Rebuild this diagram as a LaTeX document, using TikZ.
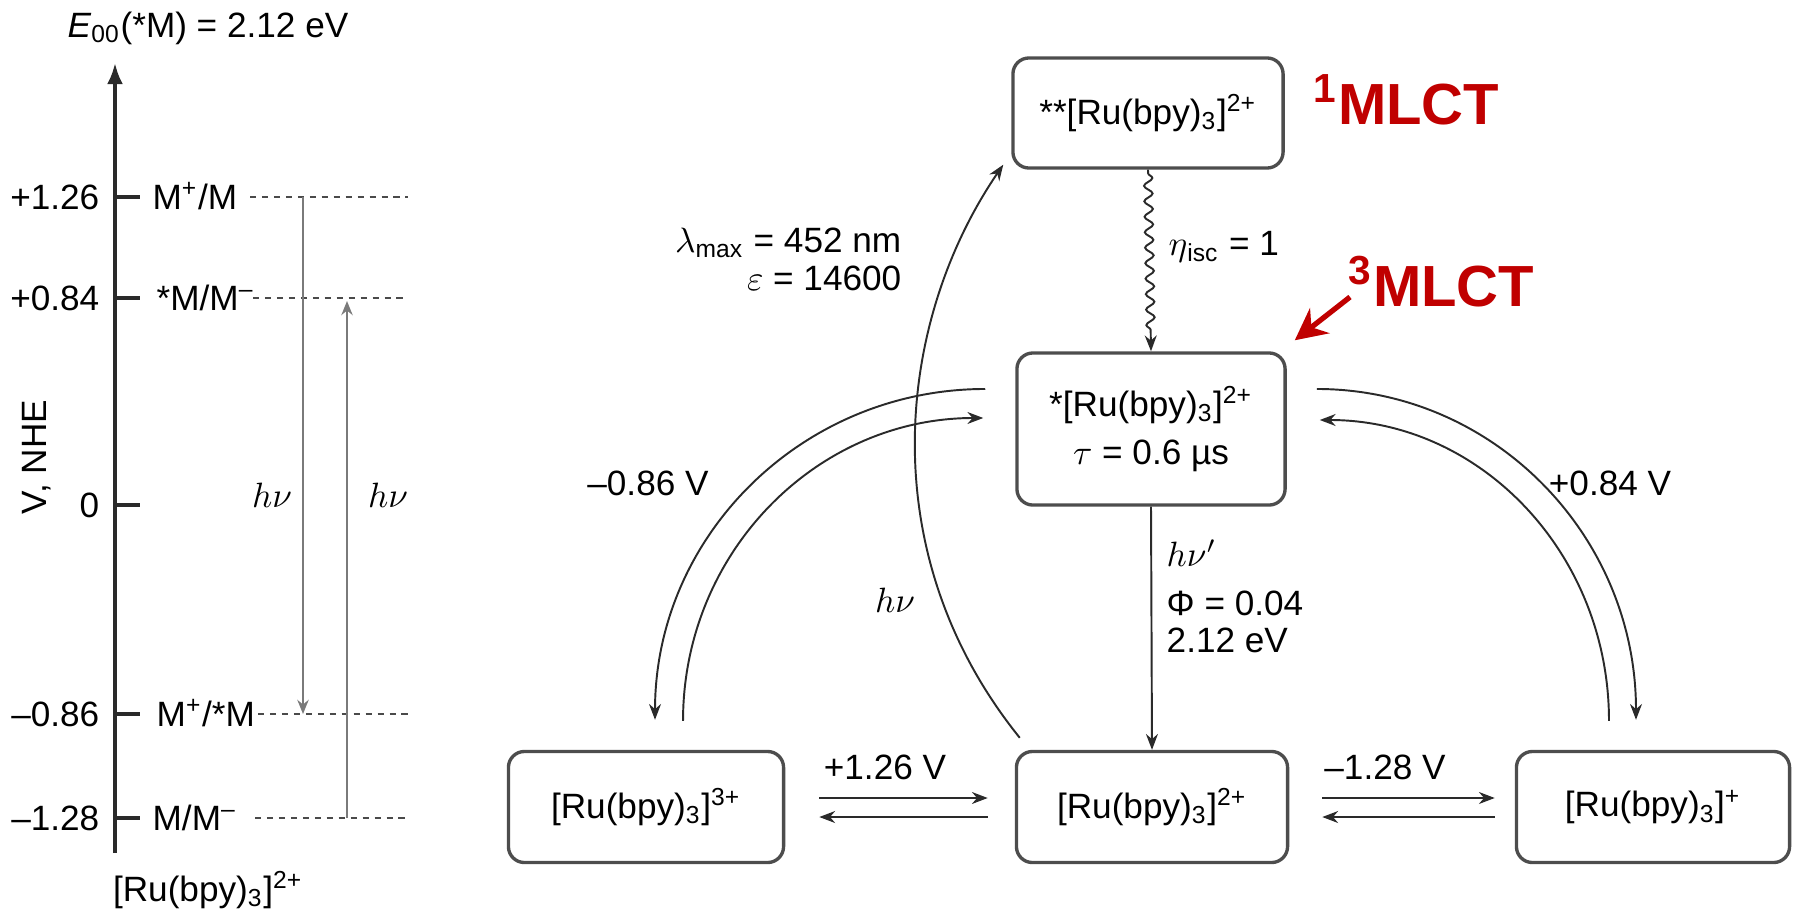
\documentclass[tikz,border=0pt]{standalone}
\usepackage{fontspec}
\setmainfont{Liberation Sans}
\usetikzlibrary{arrows.meta,decorations.pathmorphing,calc}
\definecolor{mlct}{HTML}{C00000}
\definecolor{boxc}{HTML}{4D4D4D}
\definecolor{lnc}{HTML}{2A2A2A}
\definecolor{lvgray}{HTML}{7A7A7A}
\newcommand{\fsz}{\fontsize{10}{12}\selectfont}
\newcommand{\ru}{[Ru(bpy)\textsubscript{3}]}
\begin{document}
\begin{tikzpicture}[x=0.01cm,y=-0.01cm, font=\fsz,
  box/.style={draw=boxc, line width=0.95pt, rounded corners=0.16cm, minimum width=2.72cm, minimum height=1.11cm, align=center, inner sep=0pt},
  conn/.style={draw=lnc, line width=0.55pt, -{Stealth[length=4.5pt,width=3.4pt]}},
  lvl/.style={draw=lnc!85, line width=0.65pt, dash pattern=on 1.8pt off 1.6pt},
  tickmark/.style={draw=lnc, line width=1pt},
  vert/.style={draw=lvgray, line width=0.7pt, -{Stealth[length=4pt,width=3.2pt]}},
  redtxt/.style={text=mlct, font=\fontsize{16.5}{20}\selectfont\bfseries, inner sep=0pt, anchor=west},
  lab/.style={inner sep=0pt},
]
\useasboundingbox (0,0) rectangle (1797,915);

% ---------- left energy diagram ----------
\node[lab] (title) at (208,28) {\textit{E}\textsubscript{00}(*M) = 2.12 eV};
\coordinate (axb) at (115,853);
\coordinate (axt) at (115,63);
\draw[draw=lnc, line width=1pt, -{Latex[length=6pt,width=4.5pt]}] (axb) -- (axt);
\foreach \y/\t/\n in {197/+1.26/a, 298/+0.84/b, 505/0/c, 714/–0.86/d, 818/–1.28/e} {
  \draw[tickmark] (115,\y) -- (140,\y);
  \node[lab, anchor=base east] (tk\n) at (100,\y+12) {\t};
}
\node[lab, rotate=90] (vnhe) at (37,457) {V, NHE};

\node[lab, anchor=base west] (l1) at (152,209) {M\textsuperscript{+}/M};
\node[lab, anchor=base west] (l2) at (156,310) {*M/M\textsuperscript{–}};
\node[lab, anchor=base west] (l3) at (156,726) {M\textsuperscript{+}/*M};
\node[lab, anchor=base west] (l4) at (152,830) {M/M\textsuperscript{–}};

\draw[lvl] (250,197) -- (408,197);
\draw[lvl] (253,298) -- (408,298);
\draw[lvl] (258,714) -- (408,714);
\draw[lvl] (255,818) -- (408,818);

\draw[vert] (303,197) -- (303,714);
\draw[vert] (347,818) -- (347,301);
\node[lab] (hn1) at (272,495) {$h\nu$};
\node[lab] (hn2) at (388,495) {$h\nu$};

\node[lab] (lbot) at (208,890) {\ru\textsuperscript{2+}};

% ---------- right scheme ----------
\node[box, minimum width=2.70cm, minimum height=1.10cm] (top) at (1148,113) {**\ru\textsuperscript{2+}};
\node[box, minimum width=2.68cm, minimum height=1.52cm] (mid) at (1151,429) {*\ru\textsuperscript{2+}\\[1.5pt]$\tau$ = 0.6 µs};
\node[box, minimum width=2.75cm] (b3) at (646,807) {\ru\textsuperscript{3+}};
\node[box, minimum width=2.71cm] (b2) at (1152,807) {\ru\textsuperscript{2+}};
\node[box, minimum width=2.73cm] (b1) at (1653,807) {\ru\textsuperscript{+}};

% intersystem crossing
\draw[conn, decorate, decoration={snake, amplitude=1.2pt, segment length=4.4pt, pre length=1pt, post length=4.5pt}] (top.south) -- (mid.north);
\node[lab, anchor=west] (eta) at (1168,247) {$\eta$\textsubscript{isc} = 1};

% emission
\draw[conn] (mid.south) -- (b2.north);
\node[lab, anchor=west] (hnup) at (1166,553) {$h\nu'$};
\node[lab, anchor=west] (phi) at (1166,603) {Φ = 0.04};
\node[lab, anchor=west] (ev) at (1166,640) {2.12 eV};

% excitation
\draw[conn] ([xshift=0.05cm,yshift=0.12cm]b2.north west) .. controls (870,552) and (897,320) .. ([xshift=-0.08cm,yshift=0.05cm]top.south west);
\node[lab] (hn3) at (895,600) {$h\nu$};
\node[lab, anchor=base east] (lam) at (902,252) {$\lambda$\textsubscript{max} = 452 nm};
\node[lab, anchor=base east] (eps) at (902,290) {$\varepsilon$ = 14600};

% left pair of curved arrows
\draw[conn] ([xshift=-0.30cm,yshift=0.40cm]mid.west) .. controls +(-183,0) and +(0,-184) .. ([xshift=0.09cm,yshift=0.30cm]b3.north);
\draw[conn] ([xshift=0.37cm,yshift=0.29cm]b3.north) .. controls +(0,-168) and +(-167,0) .. ([xshift=-0.32cm,yshift=0.11cm]mid.west);
\node[lab] (v086) at (648,483) {–0.86 V};

% right pair of curved arrows
\draw[conn] ([xshift=0.30cm,yshift=0.40cm]mid.east) .. controls +(177,0) and +(0,-184) .. ([xshift=-0.17cm,yshift=0.30cm]b1.north);
\draw[conn] ([xshift=-0.44cm,yshift=0.29cm]b1.north) .. controls +(0,-167) and +(161,0) .. ([xshift=0.33cm,yshift=0.09cm]mid.east);
\node[lab] (v084) at (1610,483) {+0.84 V};

% equilibria
\draw[conn] ([xshift=0.34cm,yshift=0.09cm]b3.east) -- ([xshift=-0.27cm,yshift=0.09cm]b2.west);
\draw[conn] ([xshift=-0.27cm,yshift=-0.10cm]b2.west) -- ([xshift=0.34cm,yshift=-0.10cm]b3.east);
\node[lab] (k1) at (885,767) {+1.26 V};
\draw[conn] ([xshift=0.33cm,yshift=0.09cm]b2.east) -- ([xshift=-0.20cm,yshift=0.09cm]b1.west);
\draw[conn] ([xshift=-0.20cm,yshift=-0.10cm]b1.west) -- ([xshift=0.33cm,yshift=-0.10cm]b2.east);
\node[lab] (k2) at (1385,767) {–1.28 V};

% red annotations
\node[redtxt] (m1) at (1313,100) {\textsuperscript{1}MLCT};
\node[redtxt] (m3) at (1348,282) {\textsuperscript{3}MLCT};
\draw[mlct, line width=1.5pt, -{Stealth[length=9pt,width=9pt,inset=3pt]}] ([xshift=0.02cm,yshift=-0.15cm]m3.west) -- ([xshift=0.08cm,yshift=0.11cm]mid.north east);
\end{tikzpicture}
\end{document}
